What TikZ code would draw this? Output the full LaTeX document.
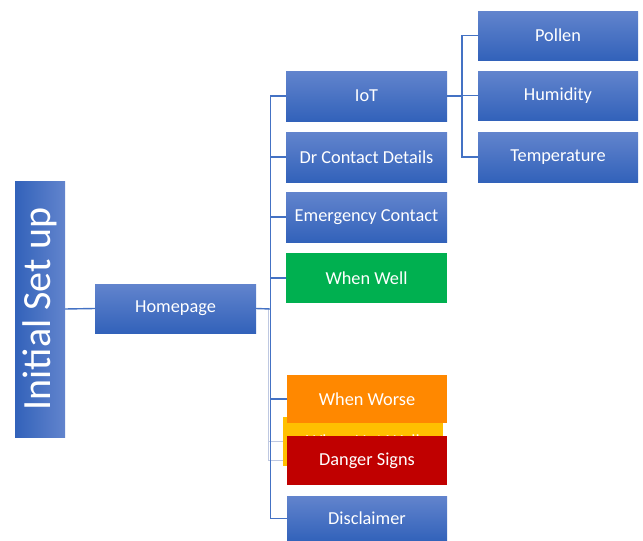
\documentclass[tikz,border=0pt]{standalone}
\usepackage{fontspec}
\setmainfont{Carlito}
\usetikzlibrary{backgrounds}
\definecolor{blueTop}{RGB}{98,132,205}
\definecolor{blueBot}{RGB}{50,98,186}
\definecolor{lineBlue}{RGB}{68,114,196}
\definecolor{lineLight}{RGB}{190,200,225}
\definecolor{wellGreen}{RGB}{0,176,80}
\definecolor{worseOrange}{RGB}{255,136,0}
\definecolor{notYellow}{RGB}{255,192,0}
\definecolor{dangerRed}{RGB}{192,0,0}
\tikzset{
  base/.style={rectangle, inner sep=0pt, outer sep=0pt, anchor=north west,
    text=white, font=\fontsize{18.3}{22}\selectfont},
  bluebox/.style={base, top color=blueTop, bottom color=blueBot},
  flatbox/.style={base, fill=#1},
  conn/.style={draw=lineBlue, line width=1.4pt},
  connlight/.style={draw=lineLight, line width=1.2pt}
}
\begin{document}
\begin{tikzpicture}[x=1pt,y=-1pt]
\useasboundingbox (0,0) rectangle (643,541);
% helper coordinates
\coordinate (hub) at (270.5,309);
\coordinate (hubb) at (268.5,309);
\coordinate (hub2) at (462,96);
% nodes
\node[rectangle, inner sep=0pt, outer sep=0pt, rotate=90, minimum width=256pt, minimum height=50pt,
  left color=blueBot, right color=blueTop, text=white, font=\fontsize{40}{44}\selectfont]
  (init) at (40,309) {Initial Set up};
\node[bluebox, minimum width=161pt, minimum height=49pt] (home) at (95,284) {Homepage};
\node[bluebox, minimum width=161pt, minimum height=50pt] (iot) at (286,71) {IoT};
\node[bluebox, minimum width=161pt, minimum height=50pt] (dr) at (286,132) {Dr Contact Details};
\node[bluebox, minimum width=161pt, minimum height=50pt] (emer) at (286,192) {Emergency Contact};
\node[flatbox=wellGreen, minimum width=161pt, minimum height=50pt] (well) at (286,253) {When Well};
\node[flatbox=notYellow, minimum width=160pt, minimum height=49pt] (notwell) at (283,417) {When Not Well};
\node[flatbox=worseOrange, minimum width=160pt, minimum height=48pt] (worse) at (287,375) {When Worse};
\node[flatbox=dangerRed, minimum width=160pt, minimum height=49pt] (danger) at (287,436) {Danger Signs};
\node[bluebox, minimum width=160pt, minimum height=45pt] (disc) at (287,496) {Disclaimer};
\node[bluebox, minimum width=160pt, minimum height=49pt] (pollen) at (478,11) {Pollen};
\node[bluebox, minimum width=160pt, minimum height=49pt] (humid) at (478,71) {Humidity};
\node[bluebox, minimum width=160pt, minimum height=50pt] (temp) at (478,132) {Temperature};
% connectors behind the boxes
\begin{scope}[on background layer]
\path[connlight] (hubb) |- (notwell.west);
\path[connlight] (hubb) |- (danger.west);
\path[conn] (init.south) -- (home.west);
\path[conn] (home.east) -- (hub);
\path[conn] (hub) |- (iot.west);
\path[conn] (hub) |- (dr.west);
\path[conn] (hub) |- (emer.west);
\path[conn] (hub) |- (well.west);
\path[conn] (hub) |- (worse.west);
\path[conn] (hub) |- (disc.west);
\path[conn] (iot.east) -- (hub2);
\path[conn] (hub2) |- (pollen.west);
\path[conn] (hub2) |- (humid.west);
\path[conn] (hub2) |- (temp.west);
\end{scope}
\end{tikzpicture}
\end{document}
